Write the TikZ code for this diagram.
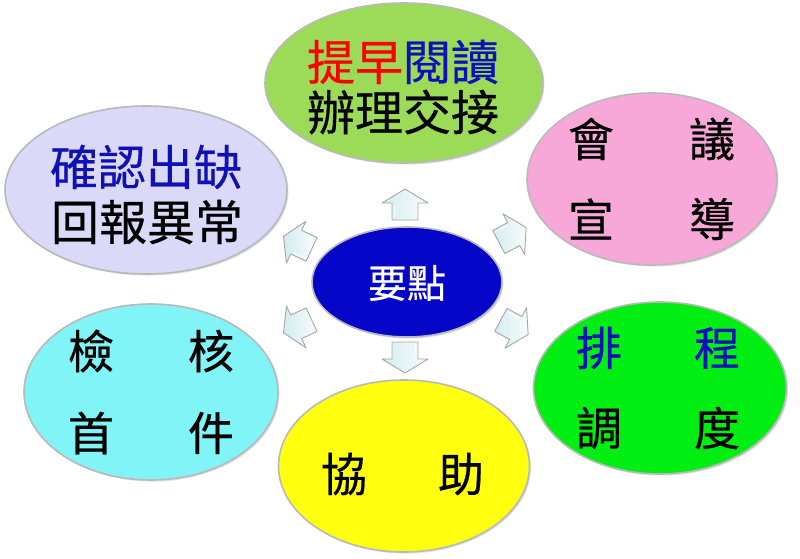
\documentclass[tikz,border=0pt]{standalone}
\usepackage{fontspec}
\newfontfamily\cjk[FakeBold=0.5]{Noto Sans CJK TC}
\usetikzlibrary{shapes.geometric,shadows}
\definecolor{cTop}{HTML}{9BDB58}
\definecolor{cLav}{HTML}{DADAF8}
\definecolor{cPink}{HTML}{F8A8D8}
\definecolor{cGreen}{HTML}{00EE11}
\definecolor{cCyan}{HTML}{80F4F6}
\definecolor{cYel}{HTML}{FFFF10}
\definecolor{cCen}{HTML}{0606C8}
\definecolor{tRed}{HTML}{FF0000}
\definecolor{tBlue}{HTML}{1010B8}
\definecolor{arrFill}{HTML}{D2ECF0}
\tikzset{
  blob/.style={ellipse, inner sep=0pt, draw=gray!55, line width=1.6pt,
    drop shadow={shadow xshift=1.5pt, shadow yshift=-1.5pt, opacity=0.25}},
  big/.style={font=\cjk\fontsize{48}{50}\selectfont, inner sep=0pt, anchor=center},
  mid/.style={font=\cjk\fontsize{46}{48}\selectfont, inner sep=0pt, anchor=center},
  barrowstyle/.style={draw=gray!70, line width=0.9pt, line join=round,
    left color=arrFill, right color=white!85!arrFill},
  barrow/.pic={
    \path[barrowstyle] (-15,-13) -- (2,-13) -- (2,-23) -- (16,0)
      -- (2,23) -- (2,13) -- (-15,13) -- cycle;
    \draw[white, line width=1pt, opacity=0.8] (-13,-10.5) -- (0,-10.5);
  }
}
\begin{document}
\begin{tikzpicture}[x=1pt,y=-1pt]
\useasboundingbox[fill=white] (0,0) rectangle (800,559);
% ellipses
\node[blob, fill=cTop, minimum width=278pt, minimum height=160pt] (top) at (404,83) {};
\node[blob, fill=cLav, minimum width=282pt, minimum height=168pt] (lav) at (146,190) {};
\node[blob, fill=cPink, minimum width=250pt, minimum height=172pt] (pink) at (652,179) {};
\node[blob, fill=cGreen, minimum width=253pt, minimum height=172pt] (green) at (660,388) {};
\node[blob, fill=cCyan, minimum width=254pt, minimum height=176pt] (cyan) at (151,392) {};
\node[blob, fill=cYel, minimum width=251pt, minimum height=172pt] (yel) at (404,466) {};
\node[blob, fill=cCen, minimum width=190pt, minimum height=110pt] (cen) at (407,282) {};
% block arrows
\pic[rotate=90] (aU) at (405,205) {barrow};
\pic[rotate=155] (aUL) at (298,243) {barrow};
\pic[rotate=28] (aUR) at (512,235) {barrow};
\pic[rotate=205] (aLL) at (298,326) {barrow};
\pic[rotate=-28] (aLR) at (514,327) {barrow};
\pic[rotate=-90] (aD) at (405,357) {barrow};
% texts
\node[font=\cjk\fontsize{39}{40}\selectfont, text=white, inner sep=0pt] (tcen) at (407,283) {要點};
\node[big] (t1) at (403,62) {\textcolor{tRed}{提早}\textcolor{tBlue}{閱讀}};
\node[big] (t2) at (403,112) {辦理交接};
\node[big, text=tBlue] (l1) at (146,167) {確認出缺};
\node[big] (l2) at (147,222) {回報異常};
\node[mid] (p1) at (591,139) {會};
\node[mid] (p2) at (712,139) {議};
\node[mid] (p3) at (591,219) {宣};
\node[mid] (p4) at (712,219) {導};
\node[mid, text=tBlue] (g1) at (599,348) {排};
\node[mid, text=tBlue] (g2) at (717,348) {程};
\node[mid] (g3) at (599,428) {調};
\node[mid] (g4) at (717,428) {度};
\node[mid] (c1) at (91,351) {檢};
\node[mid] (c2) at (211,351) {核};
\node[mid] (c3) at (91,433) {首};
\node[mid] (c4) at (211,433) {件};
\node[mid] (y1) at (344,474) {協};
\node[mid] (y2) at (461,474) {助};
\end{tikzpicture}
\end{document}
